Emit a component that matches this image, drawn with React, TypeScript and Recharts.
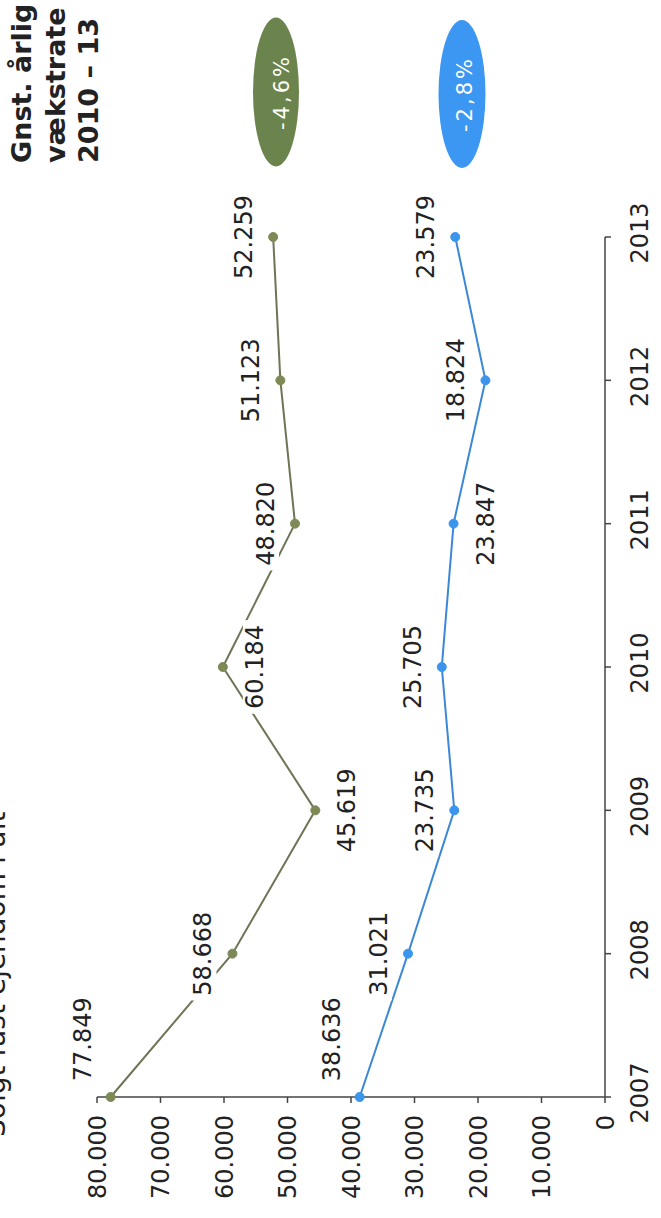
import React from 'react';
import { LineChart, Line, XAxis, YAxis, LabelList } from 'recharts';

const years = ['2007', '2008', '2009', '2010', '2011', '2012', '2013'];
const soldTotal = [77849, 58668, 45619, 60184, 48820, 51123, 52259];
const soldOther = [38636, 31021, 23735, 25705, 23847, 18824, 23579];
const valueTicks = [0, 10000, 20000, 30000, 40000, 50000, 60000, 70000, 80000];
const growthTotal = '-4,6%';
const growthOther = '-2,8%';
const titleText = 'Solgt fast ejendom i alt';
const headerLines = ['Gnst. årlig', 'vækstrate', '2010 – 13'];

// label placement (style only)
const placeTotal = ['aboveRight', 'above', 'below', 'below', 'above', 'above', 'above'];
const placeOther = ['aboveRight', 'above', 'above', 'above', 'below', 'above', 'above'];

const data = years.map((y, i) => ({ year: y, total: soldTotal[i], other: soldOther[i] }));

const FONT = '"DejaVu Sans", Verdana, sans-serif';
const GREEN_LINE = '#6d7556';
const GREEN_DOT = '#7d8a55';
const GREEN_FILL = '#6b844d';
const BLUE_LINE = '#3b87d8';
const BLUE_DOT = '#3b95ec';
const BLUE_FILL = '#3b97f1';

const fmt = (v: number) => Math.round(v).toString().replace(/\B(?=(\d{3})+(?!\d))/g, '.');

const makeLabel = (values: number[], places: string[]) => (props: any) => {
  const { x, y, value } = props;
  let idx = props.index;
  if (idx === undefined || idx === null) idx = values.findIndex((v) => v === value);
  const place = places[idx] || 'above';
  const text = fmt(Number(value));
  const w = text.length * 14.6;
  let cx = x;
  let baseline = y - 21;
  if (place === 'below') baseline = y + 40;
  if (place === 'aboveRight') {
    cx = x + 14 + w / 2;
    baseline = y - 20;
  }
  return (
    <g>
      <rect x={cx - w / 2 - 3} y={baseline - 20} width={w + 6} height={25} fill="#ffffff" />
      <text x={cx} y={baseline} textAnchor="middle" fontSize={24} fontFamily={FONT} fill="#222">
        {text}
      </text>
    </g>
  );
};

export default function App() {
  return (
    <div
      style={{
        position: 'absolute',
        left: 0,
        top: 0,
        width: 661,
        height: 1218,
        overflow: 'hidden',
        background: '#ffffff',
      }}
    >
      <div
        style={{
          position: 'absolute',
          left: 0,
          top: 0,
          width: 1218,
          height: 661,
          transformOrigin: '0 0',
          transform: 'translate(0px, 1218px) rotate(-90deg)',
        }}
      >
        <LineChart
          width={1218}
          height={661}
          data={data}
          margin={{ top: 97, right: 237, left: 0, bottom: 0 }}
        >
          <XAxis
            dataKey="year"
            height={56}
            interval={0}
            tickSize={6}
            tickMargin={20}
            axisLine={{ stroke: '#444', strokeWidth: 1.5 }}
            tickLine={{ stroke: '#444', strokeWidth: 1.5 }}
            tick={{ fill: '#222', fontSize: 24, fontFamily: FONT, dx: 4 }}
          />
          <YAxis
            width={121}
            domain={[0, 80000]}
            ticks={valueTicks}
            interval={0}
            tickFormatter={fmt}
            tickSize={6}
            tickMargin={12}
            axisLine={{ stroke: '#444', strokeWidth: 1.5 }}
            tickLine={{ stroke: '#444', strokeWidth: 1.5 }}
            tick={{ fill: '#222', fontSize: 24, fontFamily: FONT }}
          />
          <Line
            dataKey="total"
            stroke={GREEN_LINE}
            strokeWidth={2}
            dot={{ r: 4.5, fill: GREEN_DOT, stroke: GREEN_DOT, strokeWidth: 1 }}
            isAnimationActive={false}
          >
            <LabelList dataKey="total" content={makeLabel(soldTotal, placeTotal)} />
          </Line>
          <Line
            dataKey="other"
            stroke={BLUE_LINE}
            strokeWidth={2}
            dot={{ r: 4.5, fill: BLUE_DOT, stroke: BLUE_DOT, strokeWidth: 1 }}
            isAnimationActive={false}
          >
            <LabelList dataKey="other" content={makeLabel(soldOther, placeOther)} />
          </Line>
        </LineChart>
        <svg
          width={1218}
          height={661}
          style={{ position: 'absolute', left: 0, top: 0, pointerEvents: 'none' }}
        >
          <text x={81} y={5} fontSize={28} fontFamily={FONT} fill="#222">
            {titleText}
          </text>
          {headerLines.map((t, i) => (
            <text
              key={t}
              x={1055}
              y={31 + i * 33.5}
              fontSize={27}
              fontWeight="bold"
              fontFamily={FONT}
              fill="#222"
            >
              {t}
            </text>
          ))}
          <ellipse cx={1126} cy={276} rx={74.5} ry={23} fill={GREEN_FILL} />
          <text
            x={1126}
            y={289}
            textAnchor="middle"
            fontSize={21}
            letterSpacing={3}
            fontFamily={FONT}
            fill="#ffffff"
          >
            {growthTotal}
          </text>
          <ellipse cx={1124} cy={462} rx={74} ry={23.5} fill={BLUE_FILL} />
          <text
            x={1124}
            y={472}
            textAnchor="middle"
            fontSize={21}
            letterSpacing={3}
            fontFamily={FONT}
            fill="#ffffff"
          >
            {growthOther}
          </text>
        </svg>
      </div>
    </div>
  );
}
